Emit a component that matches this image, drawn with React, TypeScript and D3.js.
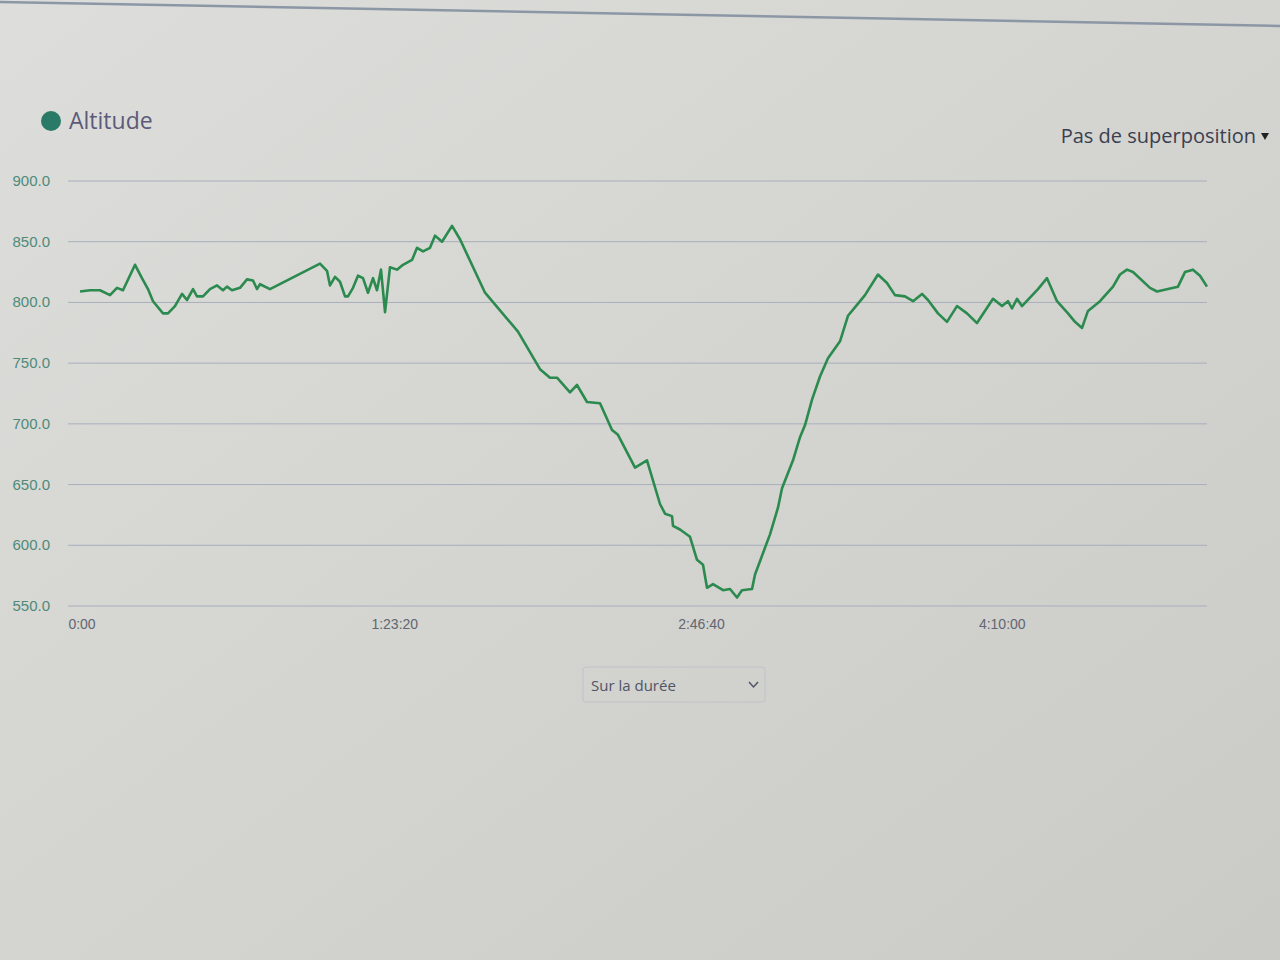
import React from "react";
import * as d3 from "d3";

// elapsed time (seconds) and altitude (m)
const timeSec: number[] = [
  0, 163, 326, 489, 603, 701, 897, 1010, 1108, 1190, 1353, 1434, 1548, 1663, 1744, 1842, 1907, 2005,
  2119, 2233, 2331, 2396, 2478, 2608, 2722, 2820, 2885, 2934, 3097, 3912, 4026, 4075, 4157, 4238,
  4320, 4368, 4450, 4531, 4613, 4694, 4776, 4841, 4906, 4972, 5053, 5167, 5216, 5265, 5412, 5494,
  5591, 5705, 5787, 5901, 6064, 6194, 6602, 7139, 7498, 7661, 7775, 7987, 8101, 8264, 8476, 8672,
  8769, 9047, 9242, 9454, 9536, 9650, 9666, 9780, 9943, 10057, 10155, 10220, 10318, 10481, 10595,
  10709, 10790, 10954, 11003, 11247, 11377, 11443, 11622, 11736, 11818, 11932, 12062, 12192, 12388,
  12518, 12665, 12795, 13007, 13154, 13284, 13447, 13578, 13725, 13822, 13985, 14132, 14295, 14458,
  14621, 14882, 15029, 15126, 15191, 15273, 15354, 15615, 15762, 15925, 16104, 16218, 16333, 16430,
  16626, 16838, 16952, 17066, 17164, 17441, 17555, 17734, 17897, 18011, 18141, 18256, 18370,
];
const altitude: number[] = [
  809, 810, 810, 806, 812, 810, 831, 820, 811, 801, 791, 791, 797, 807, 802, 811, 805, 805,
  811, 814, 810, 813, 810, 812, 819, 818, 811, 815, 811, 832, 826, 814, 821, 817,
  805, 805, 812, 822, 820, 808, 820, 810, 827, 792, 829, 827, 829, 831, 835, 845,
  842, 845, 855, 850, 863, 852, 808, 776, 745, 738, 738, 726, 732, 718, 717, 695,
  691, 664, 670, 634, 626, 624, 616, 613, 607, 588, 584, 565, 568, 563, 564,
  557, 563, 564, 576, 609, 631, 647, 670, 689, 699, 720, 739, 754, 768,
  789, 798, 806, 823, 816, 806, 805, 801, 807, 802, 791, 784, 797, 791,
  783, 803, 797, 801, 795, 803, 797, 811, 820, 801, 791, 784, 779, 793,
  801, 813, 823, 827, 825, 812, 809, 811, 813, 825, 827, 822, 813,
];
const yTicks: number[] = [550, 600, 650, 700, 750, 800, 850, 900];
const xTicks: number[] = [0, 5000, 10000, 15000];
const seriesName = "Altitude";
const overlayLabel = "Pas de superposition";
const selectLabel = "Sur la durée";

const W = 1280;
const H = 960;
const plotLeft = 68;
const plotRight = 1207;

function fmtTime(s: number): string {
  if (s === 0) return "0:00";
  const h = Math.floor(s / 3600);
  const m = Math.floor((s % 3600) / 60);
  const sec = Math.round(s % 60);
  return `${h}:${String(m).padStart(2, "0")}:${String(sec).padStart(2, "0")}`;
}

export default function App() {
  const x = d3.scaleLinear().domain([0, 18370]).range([80, 1207]);
  const y = d3.scaleLinear().domain([550, 900]).range([606, 181]);
  const pts = timeSec.map((t, i) => [t, altitude[i]] as [number, number]);
  const line = d3
    .line<[number, number]>()
    .x((d) => x(d[0]))
    .y((d) => y(d[1]));

  return (
    <svg
      width={W}
      height={H}
      style={{ position: "absolute", left: 0, top: 0, display: "block" }}
    >
      <defs>
        <linearGradient id="bg" x1="0" y1="0" x2="1" y2="1">
          <stop offset="0%" stopColor="#dddddb" />
          <stop offset="50%" stopColor="#d4d4d0" />
          <stop offset="100%" stopColor="#cacac6" />
        </linearGradient>
      </defs>
      <rect x={0} y={0} width={W} height={H} fill="url(#bg)" />
      {/* monitor edge line */}
      <line x1={0} y1={2} x2={1280} y2={26} stroke="#8c97a6" strokeWidth={2.5} />

      {/* legend */}
      <circle cx={51} cy={121} r={10} fill="#2a7a68" />
      <text
        x={69}
        y={129}
        fontFamily="'Open Sans', sans-serif"
        fontSize={23}
        fill="#5c5a7a"
      >
        {seriesName}
      </text>
      <text
        x={1256}
        y={143}
        textAnchor="end"
        fontFamily="'Open Sans', sans-serif"
        fontSize={20}
        fill="#3a4050"
      >
        {overlayLabel}
      </text>
      <path d="M1261,133 L1269,133 L1265,140 Z" fill="#222" />

      {/* grid + y labels */}
      {yTicks.map((v) => (
        <g key={v}>
          <line
            x1={plotLeft}
            x2={plotRight}
            y1={y(v)}
            y2={y(v)}
            stroke="#a9aebd"
            strokeWidth={1}
          />
          <text
            x={50}
            y={y(v) + 5}
            textAnchor="end"
            fontFamily="'Liberation Sans', Arial, sans-serif"
            fontSize={15}
            fill="#4f8a78"
          >
            {d3.format(".1f")(v)}
          </text>
        </g>
      ))}

      {/* x labels */}
      {xTicks.map((t) => (
        <text
          key={t}
          x={x(t) + (t === 0 ? 2 : t === 15000 ? 2 : 8)}
          y={629}
          textAnchor="middle"
          fontFamily="'Liberation Sans', Arial, sans-serif"
          fontSize={14}
          fill="#606672"
        >
          {fmtTime(t)}
        </text>
      ))}

      {/* series */}
      <path
        d={line(pts) || ""}
        fill="none"
        stroke="#2b8a4e"
        strokeWidth={2.6}
        strokeLinejoin="round"
      />

      {/* select box */}
      <rect
        x={583}
        y={667}
        width={182}
        height={35}
        rx={3}
        fill="none"
        stroke="#bfc2c8"
        strokeWidth={1}
      />
      <text
        x={591}
        y={691}
        fontFamily="'Open Sans', sans-serif"
        fontSize={15}
        fill="#505566"
      >
        {selectLabel}
      </text>
      <path
        d="M749,682 L753.5,687 L758,682"
        fill="none"
        stroke="#505566"
        strokeWidth={1.5}
      />
    </svg>
  );
}
